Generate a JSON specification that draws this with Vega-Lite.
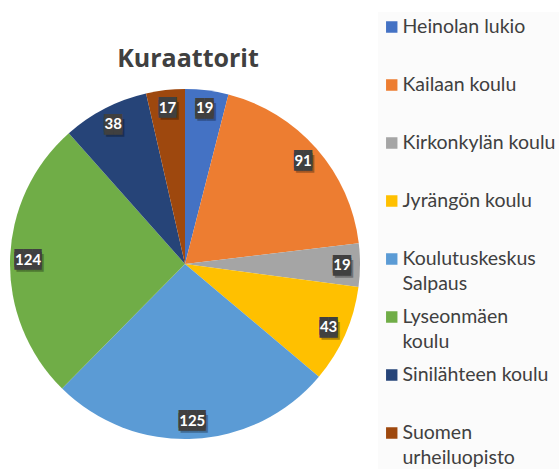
{
  "$schema": "https://vega.github.io/schema/vega-lite/v6.json",
  "autosize": {"type": "none"},
  "padding": {"left": 0, "top": 89, "right": 189, "bottom": 30},
  "width": 370,
  "height": 350,
  "background": "white",
  "config": {"view": {"stroke": null}},
  "title": {
    "text": "Kuraattorit",
    "font": "Open Sans",
    "fontSize": 25,
    "fontWeight": "bold",
    "color": "#404040",
    "anchor": "middle",
    "frame": "group",
    "offset": 0,
    "dy": 60,
    "dx": 3
  },
  "data": {
    "values": [
      {"koulu": "Heinolan lukio", "n": 19},
      {"koulu": "Kailaan koulu", "n": 91},
      {"koulu": "Kirkonkylän koulu", "n": 19},
      {"koulu": "Jyrängön koulu", "n": 43},
      {"koulu": "Koulutuskeskus Salpaus", "n": 125},
      {"koulu": "Lyseonmäen koulu", "n": 124},
      {"koulu": "Sinilähteen koulu", "n": 38},
      {"koulu": "Suomen urheiluopisto", "n": 17}
    ]
  },
  "transform": [
    {"window": [{"op": "row_number", "as": "idx"}]},
    {"calculate": "datum.n >= 100 ? '███' : '██'", "as": "box"}
  ],
  "encoding": {
    "theta": {"field": "n", "type": "quantitative", "stack": true},
    "order": {"field": "idx", "type": "quantitative"}
  },
  "layer": [
    {
      "mark": {"type": "arc", "outerRadius": 175},
      "encoding": {
        "color": {
          "field": "koulu",
          "type": "nominal",
          "scale": {
            "domain": ["Heinolan lukio", "Kailaan koulu", "Kirkonkylän koulu", "Jyrängön koulu", "Koulutuskeskus Salpaus", "Lyseonmäen koulu", "Sinilähteen koulu", "Suomen urheiluopisto"],
            "range": ["#4472C4", "#ED7D31", "#A5A5A5", "#FFC000", "#5B9BD5", "#70AD47", "#264478", "#9E480E"]
          },
          "legend": {
            "title": null,
            "orient": "none",
            "legendX": 378,
            "legendY": -77,
            "padding": 4,
            "fillColor": "#fbfbfb",
            "clipHeight": 57.6,
            "rowPadding": 0,
            "symbolType": "square",
            "symbolSize": 130,
            "symbolStrokeWidth": 0,
            "labelFont": "Lato",
            "labelFontSize": 19.5,
            "labelColor": "#404040",
            "labelOffset": 1,
            "labelLimit": 300,
            "labelBaseline": "top",
            "labelExpr": "datum.label == 'Koulutuskeskus Salpaus' || datum.label == 'Lyseonmäen koulu' || datum.label == 'Suomen urheiluopisto' ? split(datum.label, ' ') : datum.label",
            "encode": {
              "symbols": {"update": {"y": {"value": 11}}},
              "labels": {"update": {"y": {"value": 11}, "dy": {"value": -9}, "lineHeight": {"value": 25}}}
            }
          }
        }
      }
    },
    {
      "mark": {"type": "text", "radius": 157, "font": "DejaVu Sans Mono", "fontSize": 15, "color": "#000000", "opacity": 0.3, "dx": 2, "dy": 3.5, "baseline": "middle", "align": "center"},
      "encoding": {"text": {"field": "box"}}
    },
    {
      "mark": {"type": "text", "radius": 157, "font": "DejaVu Sans Mono", "fontSize": 15, "color": "#404040", "dy": -1.5, "baseline": "middle", "align": "center"},
      "encoding": {"text": {"field": "box"}}
    },
    {
      "mark": {"type": "text", "radius": 157, "font": "DejaVu Sans Mono", "fontSize": 15, "color": "#404040", "dy": 1.5, "baseline": "middle", "align": "center"},
      "encoding": {"text": {"field": "box"}}
    },
    {
      "mark": {"type": "text", "radius": 157, "font": "Lato", "fontSize": 15, "fontWeight": "bold", "color": "white", "baseline": "middle", "align": "center"},
      "encoding": {"text": {"field": "n", "type": "quantitative"}}
    }
  ]
}
